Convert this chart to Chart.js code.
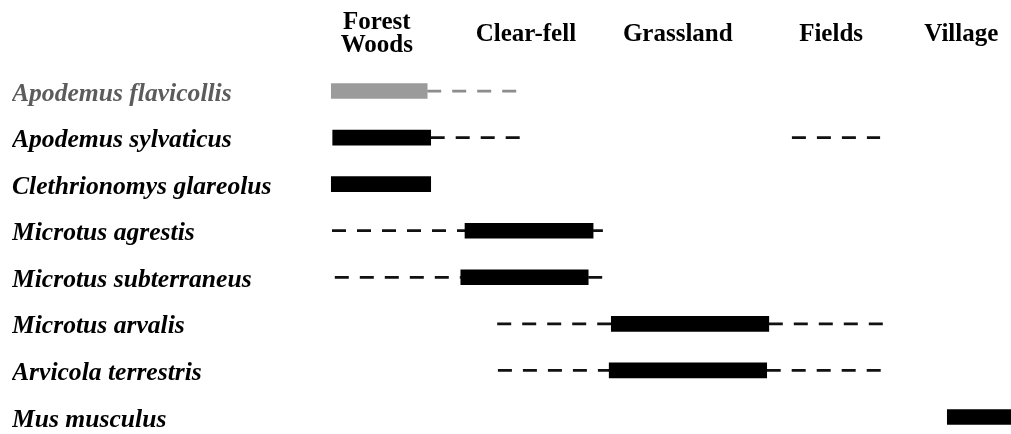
<!DOCTYPE html>
<html>
<head>
<meta charset="utf-8">
<script src="https://cdn.jsdelivr.net/npm/chart.js@4"></script>
<style>
  html, body { margin: 0; background: #fff; }
</style>
</head>
<body>
<canvas id="chart" width="1011" height="434"></canvas>
<script>
// Species (rows) and habitats (columns along the top)
const species = [
  'Apodemus flavicollis',
  'Apodemus sylvaticus',
  'Clethrionomys glareolus',
  'Microtus agrestis',
  'Microtus subterraneus',
  'Microtus arvalis',
  'Arvicola terrestris',
  'Mus musculus'
];
const habitats = [['Forest', 'Woods'], 'Clear-fell', 'Grassland', 'Fields', 'Village'];
const habitatCentres = [9.4, 30.7, 52.4, 74.3, 92.9];

// Main habitat range (thick bar), one per species, position 0..100 along the gradient
const coreStart = [2.9, 3.1, 2.9, 22.0, 21.4, 42.9, 42.6, 90.9];
const coreEnd = [16.6, 17.1, 17.1, 40.3, 39.6, 65.4, 65.1, 100];

// Marginal ranges (dashed lines)
const marginalRow = [0, 1, 1, 3, 3, 4, 4, 5, 5, 6, 6];
const marginalFrom = [16.6, 17.1, 68.7, 3.0, 40.3, 3.4, 39.6, 26.6, 65.4, 26.7, 65.1];
const marginalTo = [29.9, 30.3, 81.3, 22.0, 41.7, 21.4, 42.0, 42.9, 81.9, 42.6, 81.9];

const GREY_ROW = 0;

const datasets = [{
  type: 'bar',
  data: coreStart.map((s, i) => [s, coreEnd[i]]),
  backgroundColor: species.map((_, i) => i === GREY_ROW ? '#9b9b9b' : '#000'),
  borderWidth: 0,
  barThickness: 15,
  clip: false,
  order: 1
}];

marginalRow.forEach((row, i) => {
  datasets.push({
    type: 'line',
    data: [
      { x: marginalFrom[i], y: species[row] },
      { x: marginalTo[i], y: species[row] }
    ],
    borderColor: row === GREY_ROW ? '#8c8c8c' : '#111',
    borderWidth: 2.8,
    borderDash: [14, 11],
    borderCapStyle: 'butt',
    pointRadius: 0,
    tension: 0,
    fill: false,
    order: 2
  });
});

new Chart(document.getElementById('chart'), {
  data: { labels: species, datasets: datasets },
  options: {
    indexAxis: 'y',
    responsive: false,
    animation: false,
    layout: { padding: { left: 12, right: 0, top: 0, bottom: 17 } },
    plugins: {
      legend: { display: false },
      tooltip: { enabled: false }
    },
    scales: {
      x: {
        type: 'linear',
        position: 'top',
        min: 0,
        max: 100,
        grid: { display: false, drawTicks: false },
        border: { display: false },
        afterBuildTicks: scale => {
          scale.ticks = habitatCentres.map(v => ({ value: v }));
        },
        afterFit: scale => {
          scale.height = 91;
          scale.paddingLeft = 0;
          scale.paddingRight = 0;
        },
        ticks: {
          autoSkip: false,
          maxRotation: 0,
          crossAlign: 'center',
          padding: 45,
          color: '#000',
          font: { family: 'Liberation Serif', weight: 'bold', size: 25, lineHeight: 0.92 },
          callback: (value, index) => habitats[index]
        }
      },
      y: {
        type: 'category',
        offset: false,
        grid: { display: false, drawTicks: false },
        border: { display: false },
        afterFit: scale => {
          scale.width = 299;
          scale.paddingTop = 0;
          scale.paddingBottom = 0;
        },
        ticks: {
          crossAlign: 'far',
          padding: 0,
          labelOffset: 3,
          color: ctx => ctx.index === GREY_ROW ? '#5c5c5c' : '#000',
          font: { family: 'Liberation Serif', weight: 'bold', style: 'italic', size: 25.6 }
        }
      }
    }
  }
});
</script>
</body>
</html>
